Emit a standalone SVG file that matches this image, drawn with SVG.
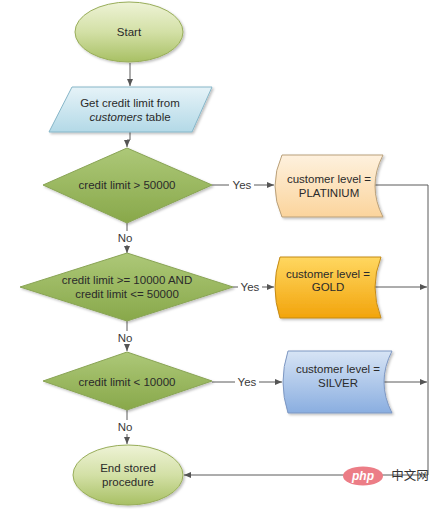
<svg xmlns="http://www.w3.org/2000/svg" width="442" height="509" viewBox="0 0 442 509">
<defs>
<linearGradient id="gEll" x1="0" y1="0" x2="0" y2="1"><stop offset="0" stop-color="#eef3d6"/><stop offset="0.5" stop-color="#d3e0a6"/><stop offset="1" stop-color="#a8c064"/></linearGradient>
<linearGradient id="gDia" x1="0" y1="0" x2="0" y2="1"><stop offset="0" stop-color="#adc878"/><stop offset="1" stop-color="#88a84a"/></linearGradient>
<linearGradient id="gPar" x1="0" y1="0" x2="0" y2="1"><stop offset="0" stop-color="#e6f3f8"/><stop offset="1" stop-color="#b3d9e7"/></linearGradient>
<linearGradient id="gPla" x1="0" y1="0" x2="0" y2="1"><stop offset="0" stop-color="#fef1de"/><stop offset="1" stop-color="#fbd49c"/></linearGradient>
<linearGradient id="gGold" x1="0" y1="0" x2="0" y2="1"><stop offset="0" stop-color="#ffd760"/><stop offset="1" stop-color="#f2a40c"/></linearGradient>
<linearGradient id="gSil" x1="0" y1="0" x2="0" y2="1"><stop offset="0" stop-color="#d7e4f5"/><stop offset="1" stop-color="#8aaee0"/></linearGradient>
<marker id="arr" markerWidth="8" markerHeight="8" refX="7" refY="4" orient="auto" markerUnits="userSpaceOnUse"><path d="M0,1 L7,4 L0,7 Z" fill="#555"/></marker>
<filter id="sh" x="-10%" y="-10%" width="130%" height="130%"><feDropShadow dx="1.5" dy="1.5" stdDeviation="1.2" flood-color="#000" flood-opacity="0.25"/></filter>
</defs>
<style>
text{font-family:"Liberation Sans",Arial,sans-serif;font-size:11.5px;fill:#2a2a2a;text-anchor:middle}
.c{fill:none;stroke:#5a5a5a;stroke-width:1}
.lbl{fill:#3a3a3a}
.ell{fill:url(#gEll);stroke:#98ad5a;stroke-width:1;filter:url(#sh)}
.dia{fill:url(#gDia);stroke:#89a455;stroke-width:1;filter:url(#sh)}
</style>
<rect width="442" height="509" fill="#fff"/>
<g id="connectors">
<line class="c" x1="130" y1="63" x2="130" y2="86" marker-end="url(#arr)"/>
<path class="c" d="M130,132 V140 H127 V147" marker-end="url(#arr)"/>
<line class="c" x1="212" y1="185" x2="229" y2="185"/>
<line class="c" x1="254" y1="185" x2="274" y2="185" marker-end="url(#arr)"/>
<line class="c" x1="127" y1="223" x2="127" y2="231"/>
<line class="c" x1="127" y1="245" x2="127" y2="253" marker-end="url(#arr)"/>
<line class="c" x1="233" y1="287" x2="238" y2="287"/>
<line class="c" x1="262" y1="287" x2="274" y2="287" marker-end="url(#arr)"/>
<line class="c" x1="127" y1="321" x2="127" y2="331"/>
<line class="c" x1="127" y1="345" x2="127" y2="351" marker-end="url(#arr)"/>
<line class="c" x1="212" y1="382" x2="235" y2="382"/>
<line class="c" x1="259" y1="382" x2="282" y2="382" marker-end="url(#arr)"/>
<line class="c" x1="127" y1="410" x2="127" y2="420"/>
<line class="c" x1="127" y1="434" x2="127" y2="444" marker-end="url(#arr)"/>
<path class="c" d="M375,185 H428 V475 H184" marker-end="url(#arr)"/>
<line class="c" x1="375" y1="287" x2="427" y2="287" marker-end="url(#arr)"/>
<line class="c" x1="384" y1="382" x2="427" y2="382" marker-end="url(#arr)"/>
<text class="lbl" x="242" y="189">Yes</text>
<text class="lbl" x="250" y="291">Yes</text>
<text class="lbl" x="247" y="386">Yes</text>
<text class="lbl" x="125" y="242">No</text>
<text class="lbl" x="125" y="342">No</text>
<text class="lbl" x="125" y="431">No</text>
</g>
<g id="start">
<ellipse class="ell" cx="129" cy="32" rx="54" ry="30"/>
<text x="129" y="36">Start</text>
</g>
<g id="get-credit">
<path d="M72,87 H212 L192,132 H49 Z" fill="url(#gPar)" stroke="#86b6c8" stroke-width="1" filter="url(#sh)"/>
<text x="130" y="107">Get credit limit from</text>
<text x="130" y="121"><tspan font-style="italic">customers</tspan> table</text>
</g>
<g id="dec1">
<polygon class="dia" points="43,185 127,148 212,185 127,223"/>
<text x="127" y="189">credit limit &gt; 50000</text>
</g>
<g id="platinium">
<path d="M282,155 H383 Q367,186 383,217 H282 Q268,186 282,155 Z" fill="url(#gPla)" stroke="#b9a07a" stroke-width="1" filter="url(#sh)"/>
<text x="329" y="183">customer level =</text>
<text x="329" y="197">PLATINIUM</text>
</g>
<g id="dec2">
<polygon class="dia" points="20,287 127,253 233,287 127,321"/>
<text x="127" y="284">credit limit &gt;= 10000 AND</text>
<text x="127" y="298">credit limit &lt;= 50000</text>
</g>
<g id="gold">
<path d="M280,257 H381 Q369,287 381,318 H280 Q270,287 280,257 Z" fill="url(#gGold)" stroke="#c48a14" stroke-width="1" filter="url(#sh)"/>
<text x="328" y="278">customer level =</text>
<text x="328" y="291">GOLD</text>
</g>
<g id="dec3">
<polygon class="dia" points="43,381 127,352 212,381 127,410"/>
<text x="127" y="386">credit limit &lt; 10000</text>
</g>
<g id="silver">
<path d="M288,351 H392 Q376,382 392,413 H288 Q278,382 288,351 Z" fill="url(#gSil)" stroke="#7d97c2" stroke-width="1" filter="url(#sh)"/>
<text x="338" y="373">customer level =</text>
<text x="338" y="387">SILVER</text>
</g>
<g id="end">
<ellipse class="ell" cx="128" cy="475" rx="55" ry="30"/>
<text x="128" y="472">End stored</text>
<text x="128" y="486">procedure</text>
</g>
<g id="watermark">
<ellipse cx="363" cy="476" rx="20" ry="9.5" fill="#ec7d86"/>
<text x="363" y="480" style="font-style:italic;font-weight:bold;fill:#fff;font-size:12px">php</text>
<text x="410" y="480" style="fill:#333;font-size:12.5px;font-family:'Noto Sans CJK SC',sans-serif">中文网</text>
</g>
</svg>
